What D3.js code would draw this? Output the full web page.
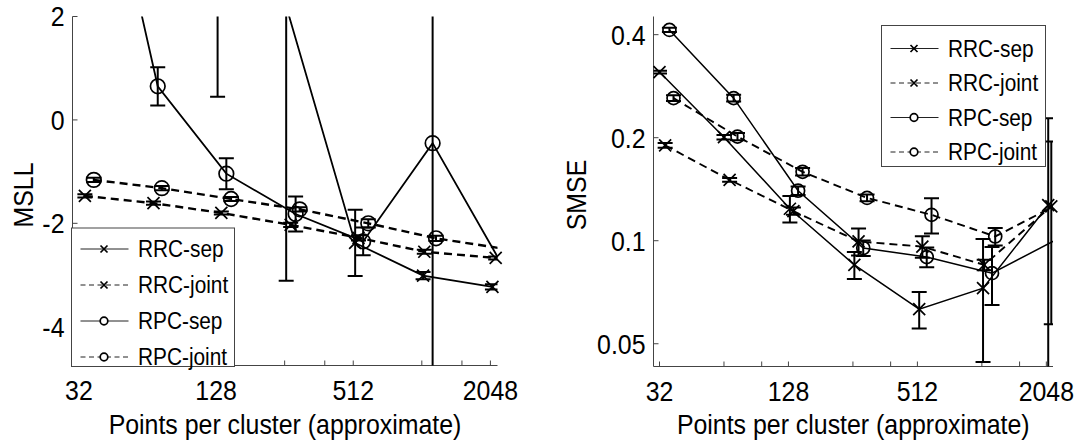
<!DOCTYPE html>
<html>
<head>
<meta charset="utf-8">
<script src="https://cdn.jsdelivr.net/npm/d3@7"></script>
<style>
  body { margin: 0; background: #fff; }
  svg { display: block; font-family: "Liberation Sans", Arial, Helvetica, sans-serif; }
</style>
</head>
<body>
<svg id="fig" width="1085" height="444"></svg>
<script>
// ---- data -------------------------------------------------------------
const seriesNames = ["RRC-sep", "RRC-joint", "RPC-sep", "RPC-joint"];

const xTickValues = [32, 128, 512, 2048];
const xMinorTicks = [64, 96, 256, 384, 1024, 1536];
const msllTicks = [2, 0, -2, -4];
const smseTicks = [0.05, 0.1, 0.2, 0.4];

// actual (approximate) cluster sizes used by each method
const sizeRRCsep   = [32, 64, 130, 260, 522, 1037, 2090];
const sizeRRCjoint = [34, 68, 135, 272, 540, 1050, 2160];
const sizeRPCsep   = [35.6, 71, 142, 286, 566, 1142, 2330];
const sizeRPCjoint = [37.2, 74, 149, 298, 596, 1182, 2330];

// mean standardised log loss (mean and error half-width)
const msllRRCsep      = [9.0, 6.5, 4.5, 2.2, -2.38, -3.01, -3.23];
const msllRRCsepErr   = [2.0, 2.0, 4.05, 5.31, 0.64, 0.07, 0.05];
const msllRRCjoint    = [-1.47, -1.61, -1.80, -2.03, -2.28, -2.55, -2.67];
const msllRRCjointErr = [0.03, 0.03, 0.03, 0.04, 0.05, 0.04, 0.03];
const msllRPCsep      = [6.5, 0.65, -1.04, -1.82, -2.35, -0.45, -2.84];
const msllRPCsepErr   = [1.0, 0.37, 0.30, 0.34, 0.27, 6.0, 0];
const msllRPCjoint    = [-1.16, -1.32, -1.53, -1.73, -2.0, -2.29, -2.49];
const msllRPCjointErr = [0.04, 0.04, 0.04, 0.04, 0.08, 0.05, 0];

// standardised mean squared error (mean and error half-width)
const smseRRCsep      = [0.311, 0.2007, 0.124, 0.085, 0.0631, 0.0727, 0.127];
const smseRRCsepErr   = [0.003, 0.003, 0.011, 0.0077, 0.0077, 0.0285, 0.101];
const smseRRCjoint    = [0.190, 0.1506, 0.122, 0.0995, 0.0961, 0.085, 0.126];
const smseRRCjointErr = [0.003, 0.002, 0.003, 0.009, 0.007, 0.003, 0.069];
const smseRPCsep      = [0.413, 0.261, 0.140, 0.0952, 0.0896, 0.0804, 0.1014];
const smseRPCsepErr   = [0.006, 0.006, 0.004, 0.005, 0.006, 0.0155, 0];
const smseRPCjoint    = [0.261, 0.2015, 0.159, 0.1334, 0.119, 0.1029, 0.128];
const smseRPCjointErr = [0.005, 0.005, 0.004, 0.003, 0.014, 0.006, 0];

// ---- helpers ----------------------------------------------------------
const sizes = [sizeRRCsep, sizeRRCjoint, sizeRPCsep, sizeRPCjoint];
const dashed = [false, true, false, true];
const markerType = ["x", "x", "o", "o"];

function buildSeries(values, errors) {
  return seriesNames.map((name, i) => ({
    name, dashed: dashed[i], marker: markerType[i],
    points: sizes[i].map((s, j) => ({ x: s, y: values[i][j], e: errors[i][j] }))
  }));
}

const svg = d3.select("#fig");
const defs = svg.append("defs");
const xDomain = [30, 2200];
const FONT = 27.5;       // axis text
const LEGEND_FONT = 23;  // legend text
const CONDENSE = 0.905;  // narrow Helvetica-like glyphs

// squeeze text horizontally (along its own direction)
function condense(sel) {
  sel.each(function () {
    const w = this.getComputedTextLength();
    if (w > 0) {
      d3.select(this).attr("textLength", w * CONDENSE).attr("lengthAdjust", "spacingAndGlyphs");
    }
  });
}

function drawMarker(g, type, cx, cy, r, sw, fill) {
  if (type === "o") {
    g.append("circle").attr("cx", cx).attr("cy", cy).attr("r", r)
      .attr("fill", fill || "none").attr("stroke", "#000").attr("stroke-width", sw);
  } else {
    g.append("path")
      .attr("d", `M${cx - r},${cy - r}L${cx + r},${cy + r}M${cx - r},${cy + r}L${cx + r},${cy - r}`)
      .attr("stroke", "#000").attr("stroke-width", sw).attr("fill", "none");
  }
}

function drawPanel(p) {
  const x = d3.scaleLog().base(2).domain(xDomain).range([p.left, p.right]);
  const y = p.y;
  const g = svg.append("g");

  defs.append("clipPath").attr("id", "clip-" + p.id).append("rect")
    .attr("x", p.left).attr("y", p.top)
    .attr("width", p.right - p.left).attr("height", p.bottom - p.top);

  // axes (ticks point inwards, no box)
  const ax = g.append("g").attr("transform", `translate(${p.left},0)`)
    .call(d3.axisLeft(y).tickValues(p.yTicks).tickFormat(p.yFormat)
      .tickSizeInner(-5).tickSizeOuter(0).tickPadding(8).offset(0));
  const bx = g.append("g").attr("transform", `translate(0,${p.bottom})`)
    .call(d3.axisBottom(x).tickValues(xTickValues).tickFormat(d => String(d))
      .tickSizeInner(-5).tickSizeOuter(0).offset(0));
  bx.selectAll(".minor").data(xMinorTicks).join("line").attr("class", "minor")
    .attr("x1", d => x(d)).attr("x2", d => x(d)).attr("y1", 0).attr("y2", -5)
    .attr("stroke", "#444");
  [ax, bx].forEach(a => {
    a.attr("font-family", null).attr("font-size", null);
    a.select(".domain").attr("stroke", "#444");
    a.selectAll(".tick line").attr("stroke", "#444");
    a.selectAll("text").attr("fill", "#000").style("font-size", FONT + "px");
  });
  ax.selectAll("text").attr("dy", "0.36em");
  bx.selectAll("text").attr("dy", null).attr("y", 34.5);
  condense(ax.selectAll("text"));
  condense(bx.selectAll("text"));

  // axis titles
  const xt = g.append("text").attr("x", (p.left + p.right) / 2).attr("y", 433.5)
    .attr("text-anchor", "middle").style("font-size", FONT + "px").text(p.xLabel);
  const yt = g.append("text").attr("transform", `translate(${p.yLabelX},195) rotate(-90)`)
    .attr("text-anchor", "middle").style("font-size", FONT + "px").text(p.yLabel);
  condense(xt); condense(yt);

  // data
  const plot = g.append("g");
  const clipped = plot.append("g").attr("clip-path", `url(#clip-${p.id})`);
  const line = d3.line().x(d => x(d.x)).y(d => y(d.y));
  const lo = v => (p.log ? Math.max(v, 1e-4) : v);

  p.series.forEach(s => {
    clipped.append("path").datum(s.points).attr("d", line)
      .attr("fill", "none").attr("stroke", "#000")
      .attr("stroke-width", s.dashed ? p.dashWidth : p.solidWidth)
      .attr("stroke-dasharray", s.dashed ? "8,5" : null);
    s.points.filter(d => d.e > 0).forEach(d => {
      const cx = x(d.x), y1 = y(lo(d.y - d.e)), y2 = y(d.y + d.e);
      clipped.append("path")
        .attr("d", `M${cx},${y1}L${cx},${y2}M${cx - 7.5},${y1}L${cx + 7.5},${y1}M${cx - 7.5},${y2}L${cx + 7.5},${y2}`)
        .attr("stroke", "#000").attr("stroke-width", 2).attr("fill", "none");
    });
  });
  p.series.forEach(s => {
    s.points.forEach(d => {
      const inX = d.x > xDomain[0] && d.x < xDomain[1];
      const yd = y.domain();
      const inY = d.y >= Math.min(...yd) && d.y <= Math.max(...yd);
      if (inX && inY) {
        drawMarker(plot, s.marker, x(d.x), y(d.y),
          s.marker === "o" ? p.circleR : p.crossR, 1.7);
      }
    });
  });

  // legend
  const L = p.legend;
  const lg = g.append("g");
  lg.append("rect").attr("x", L.x).attr("y", L.y).attr("width", L.w).attr("height", L.h)
    .attr("fill", "#fff").attr("stroke", "#444").attr("stroke-width", 1);
  p.series.forEach((s, i) => {
    const ry = L.y + L.first + i * L.step;
    lg.append("line").attr("x1", L.x + 9).attr("x2", L.x + 57).attr("y1", ry).attr("y2", ry)
      .attr("stroke", "#222").attr("stroke-width", 1)
      .attr("stroke-dasharray", s.dashed ? "5,3.5" : null);
    drawMarker(lg, s.marker, L.x + 32.5, ry, s.marker === "o" ? 3.8 : 3.5, 1.7, "#fff");
    const t = lg.append("text").attr("x", L.x + 66.5).attr("y", ry).attr("dy", "0.36em")
      .style("font-size", LEGEND_FONT + "px").text(s.name);
    condense(t);
  });
}

drawPanel({
  id: "msll", left: 72.5, right: 497.5, top: 16.5, bottom: 365.5,
  y: d3.scaleLinear().domain([-4.75, 2]).range([365.5, 16.5]),
  log: false,
  yTicks: msllTicks, yFormat: d => String(d),
  xLabel: "Points per cluster (approximate)", yLabel: "MSLL", yLabelX: 33,
  series: buildSeries([msllRRCsep, msllRRCjoint, msllRPCsep, msllRPCjoint],
                      [msllRRCsepErr, msllRRCjointErr, msllRPCsepErr, msllRPCjointErr]),
  solidWidth: 1.8, dashWidth: 2.4, circleR: 7.3, crossR: 6,
  legend: { x: 71.5, y: 228, w: 163, h: 138.5, first: 21, step: 36 }
});

drawPanel({
  id: "smse", left: 653.5, right: 1053, top: 16.5, bottom: 366.5,
  y: d3.scaleLog().domain([0.0429, 0.452]).range([366.5, 16.5]),
  log: true,
  yTicks: smseTicks, yFormat: d => String(d),
  xLabel: "Points per cluster (approximate)", yLabel: "SMSE", yLabelX: 586,
  series: buildSeries([smseRRCsep, smseRRCjoint, smseRPCsep, smseRPCjoint],
                      [smseRRCsepErr, smseRRCjointErr, smseRPCsepErr, smseRPCjointErr]),
  solidWidth: 1.5, dashWidth: 1.9, circleR: 6.5, crossR: 6,
  legend: { x: 881.5, y: 25.5, w: 164, h: 141, first: 23, step: 34.5 }
});
</script>
</body>
</html>
